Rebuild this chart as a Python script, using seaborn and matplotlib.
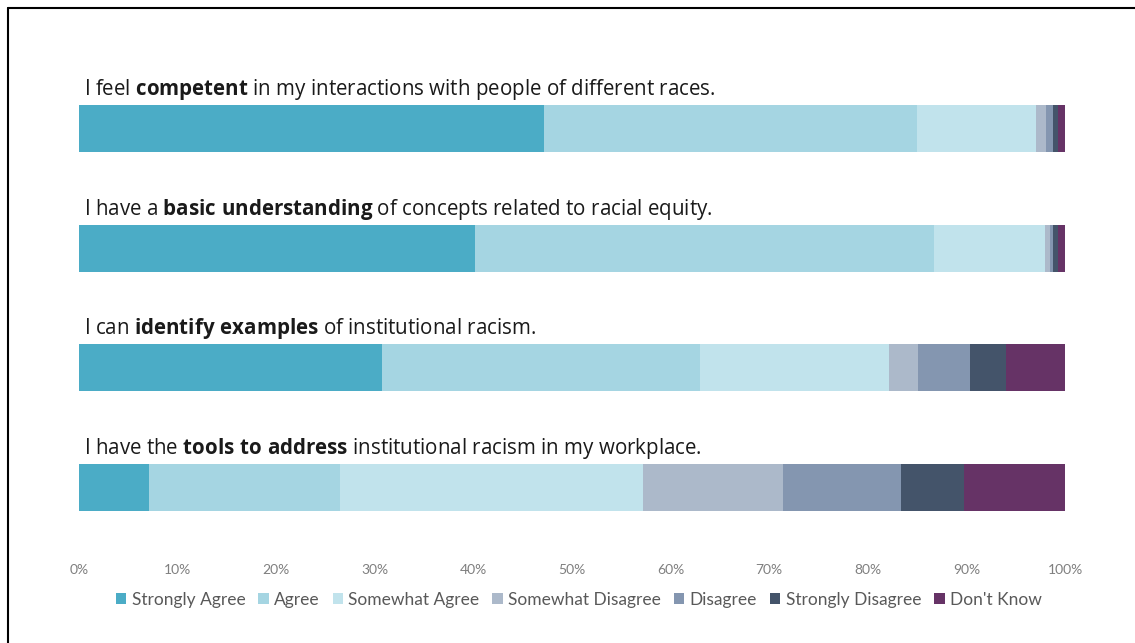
import matplotlib
matplotlib.use("Agg")
import numpy as np
import pandas as pd
import seaborn as sns
import matplotlib.pyplot as plt
from matplotlib.patches import Patch
from matplotlib.lines import Line2D

# survey statements (bold part written as mathtext)
questions = [
    r"I feel $\mathbf{competent}$ in my interactions with people of different races.",
    r"I have a $\mathbf{basic\ understanding}$ of concepts related to racial equity.",
    r"I can $\mathbf{identify\ examples}$ of institutional racism.",
    r"I have the $\mathbf{tools\ to\ address}$ institutional racism in my workplace.",
]
responses = ["Strongly Agree", "Agree", "Somewhat Agree", "Somewhat Disagree",
             "Disagree", "Strongly Disagree", "Don't Know"]

# percent of respondents, one list per response level (questions in order)
strongly_agree = [47.2, 40.2, 30.7, 7.1]
agree = [37.8, 46.5, 32.3, 19.4]
somewhat_agree = [12.1, 11.3, 19.1, 30.7]
somewhat_disagree = [1.0, 0.5, 3.0, 14.2]
disagree = [0.7, 0.3, 5.3, 12.0]
strongly_disagree = [0.5, 0.5, 3.6, 6.4]
dont_know = [0.7, 0.7, 6.0, 10.2]

colors = ["#4BACC6", "#A5D5E2", "#C1E3EC", "#ACB9CA", "#8496B0", "#44546A", "#663366"]

sns.set_style("white")
plt.rcParams["font.family"] = ["Lato", "DejaVu Sans"]
plt.rcParams["mathtext.fontset"] = "custom"
plt.rcParams["mathtext.rm"] = "Open Sans"
plt.rcParams["mathtext.bf"] = "Open Sans:bold"
plt.rcParams["mathtext.it"] = "Open Sans:italic"

df = pd.DataFrame(
    [strongly_agree, agree, somewhat_agree, somewhat_disagree,
     disagree, strongly_disagree, dont_know],
    index=responses,
).T
df["q"] = [f"q{i}" for i in range(len(questions))]
cum = df[responses].cumsum(axis=1)

fig = plt.figure(figsize=(11.35, 6.43), dpi=100)
ax = fig.add_axes([79 / 1135, 1 - 547 / 643, 986 / 1135, 478 / 643])

# stacked bars: draw cumulative totals from the widest layer down
for i in reversed(range(len(responses))):
    sns.barplot(x=cum[responses[i]], y=df["q"], orient="h", color=colors[i],
                saturation=1, width=0.39, errorbar=None, ax=ax, linewidth=0)

ax.set_xlim(0, 100)
ax.set_ylim(3.5, -0.5)
ax.set_xticks(np.arange(0, 101, 10))
ax.set_xticklabels([f"{v}%" for v in range(0, 101, 10)], color="#7f7f7f", fontsize=10)
ax.set_yticks([])
ax.set_xlabel("")
ax.set_ylabel("")
ax.tick_params(axis="x", length=0, pad=12)
for s in ax.spines.values():
    s.set_visible(False)

for i, q in enumerate(questions):
    ax.text(0.5, i - 0.28, q, fontsize=14.8, family="Open Sans", color="#1a1a1a",
            va="baseline", ha="left")

handles = [Patch(facecolor=c, edgecolor="none") for c in colors]
fig.legend(handles, responses, loc="center", bbox_to_anchor=(0.51, 1 - 600 / 643),
           ncol=7, frameon=False, fontsize=12.5, labelcolor="#595959",
           handlelength=0.6, handleheight=0.6, handletextpad=0.3, columnspacing=0.75)

# frame lines (top and left only)
fig.add_artist(Line2D([8 / 1135, 1], [1 - 8 / 643, 1 - 8 / 643], color="black", lw=1.5,
                      transform=fig.transFigure))
fig.add_artist(Line2D([8 / 1135, 8 / 1135], [0, 1 - 8 / 643], color="black", lw=1.5,
                      transform=fig.transFigure))

fig.savefig("out.png", dpi=100, facecolor="white")
